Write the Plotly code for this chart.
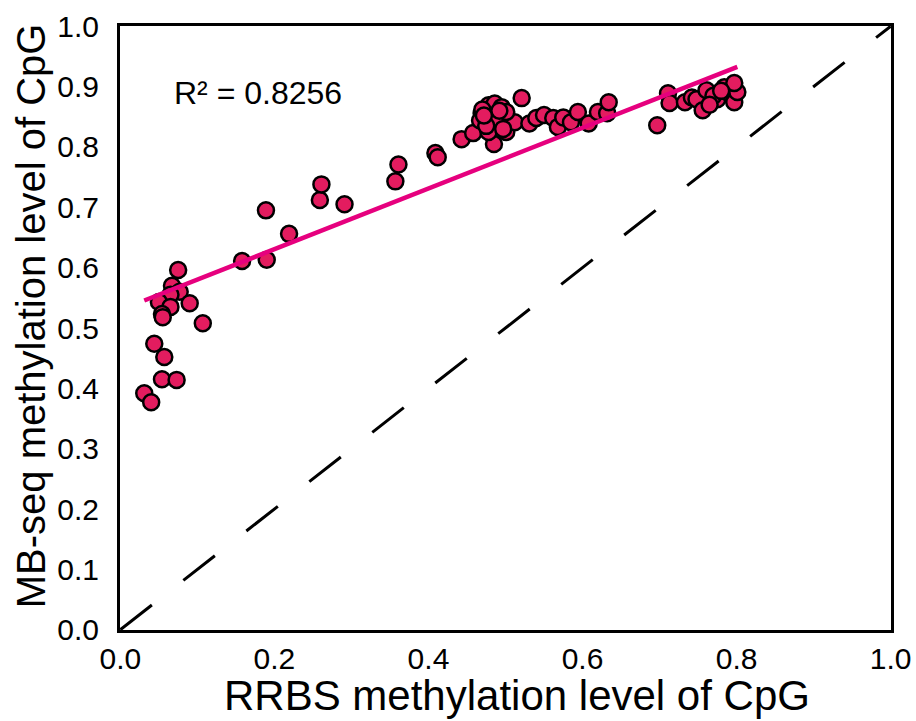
import plotly.graph_objects as go
import numpy as np

# RRBS (x) vs MB-seq (y) methylation levels
rrbs = [0.075, 0.067, 0.077, 0.065, 0.050, 0.090, 0.065, 0.054, 0.055, 0.107,
        0.044, 0.057, 0.054, 0.073, 0.031, 0.040,
        0.158, 0.190, 0.219, 0.189, 0.259, 0.261, 0.291, 0.357, 0.361,
        0.409, 0.412, 0.443, 0.458, 0.485, 0.501, 0.697,
        0.469, 0.467, 0.478, 0.486, 0.495, 0.478, 0.487, 0.512, 0.521,
        0.501, 0.531, 0.540, 0.550, 0.562, 0.568, 0.575, 0.585, 0.594,
        0.608, 0.620, 0.632, 0.634, 0.470, 0.475, 0.492, 0.472, 0.497,
        0.711, 0.713, 0.733, 0.742, 0.748, 0.756, 0.761, 0.775, 0.784,
        0.790, 0.797, 0.801, 0.797, 0.770, 0.765, 0.780]
mbseq = [0.596, 0.570, 0.560, 0.555, 0.543, 0.541, 0.535, 0.523, 0.518, 0.508,
         0.474, 0.452, 0.415, 0.414, 0.392, 0.377,
         0.611, 0.613, 0.656, 0.695, 0.712, 0.738, 0.705, 0.743, 0.771,
         0.790, 0.783, 0.813, 0.823, 0.805, 0.825, 0.836,
         0.856, 0.844, 0.869, 0.872, 0.866, 0.825, 0.846, 0.841, 0.881,
         0.858, 0.839, 0.848, 0.853, 0.848, 0.833, 0.849, 0.841, 0.858,
         0.839, 0.858, 0.856, 0.874, 0.862, 0.835, 0.860, 0.852, 0.830,
         0.889, 0.873, 0.874, 0.882, 0.879, 0.861, 0.894, 0.879, 0.899,
         0.889, 0.874, 0.891, 0.906, 0.885, 0.870, 0.893]

# linear fit
fit_slope = 0.503
fit_intercept = 0.530
r2_text = "R² = 0.8256"

x_title = "RRBS methylation level of CpG"
y_title = "MB-seq methylation level of CpG"
tick_vals_x = [0.0, 0.2, 0.4, 0.6, 0.8, 1.0]
tick_vals_y = [0.0, 0.1, 0.2, 0.3, 0.4, 0.5, 0.6, 0.7, 0.8, 0.9, 1.0]
identity = [0.0, 1.0]

FONT = "Liberation Sans, Arial, sans-serif"

fig = go.Figure()

fig.add_trace(go.Scatter(
    x=identity, y=identity, mode="lines",
    line=dict(color="black", width=3, dash="40px,40px"),
    hoverinfo="skip"))

fig.add_trace(go.Scatter(
    x=rrbs, y=mbseq, mode="markers",
    marker=dict(size=16, color="#E31C5F", line=dict(color="black", width=2.5))))

fx = np.array([min(rrbs), max(rrbs)])
fig.add_trace(go.Scatter(
    x=fx, y=fit_slope * fx + fit_intercept, mode="lines",
    line=dict(color="#E6007E", width=4.5)))

fig.add_annotation(x=0.067, y=0.89, xref="x", yref="y", text=r2_text,
                   showarrow=False, xanchor="left", yanchor="middle",
                   font=dict(family=FONT, size=32, color="black"))

# axis titles as annotations for exact placement
fig.add_annotation(x=0.515, y=-0.108, xref="paper", yref="paper", text=x_title,
                   showarrow=False, xanchor="center", yanchor="middle",
                   font=dict(family=FONT, size=42, color="black"))
fig.add_annotation(x=-0.115, y=0.52, xref="paper", yref="paper", text=y_title,
                   showarrow=False, xanchor="center", yanchor="middle", textangle=-90,
                   font=dict(family=FONT, size=40, color="black"))

axis_common = dict(
    showgrid=False, zeroline=False, showline=True, linecolor="black",
    linewidth=3, mirror=True, ticks="", ticklen=0, automargin=False,
    ticklabeloverflow="allow",
)

fig.update_xaxes(range=[-0.0005, 1.0005], tickvals=tick_vals_x, tickformat=".1f",
                 tickfont=dict(family=FONT, size=30, color="black"),
                 ticklabelstandoff=0,
                 **axis_common)
fig.update_yaxes(range=[-0.0005, 1.0005], tickvals=tick_vals_y, tickformat=".1f",
                 tickfont=dict(family=FONT, size=30, color="black"),
                 ticklabelstandoff=12,
                 **axis_common)

fig.update_layout(
    width=916, height=721, showlegend=False,
    plot_bgcolor="white", paper_bgcolor="white",
    margin=dict(l=120, r=25, t=26, b=91),
    font=dict(family=FONT),
)

fig.write_html("out.html")
